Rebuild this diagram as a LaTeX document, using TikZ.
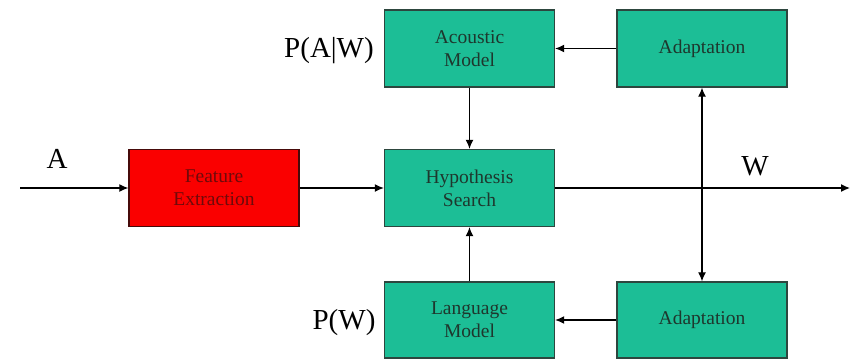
\documentclass[tikz,border=0pt]{standalone}
\usepackage{fontspec}
\setmainfont{Liberation Serif}
\usetikzlibrary{arrows.meta}
\definecolor{boxgreen}{RGB}{28,190,150}
\definecolor{boxedge}{RGB}{45,70,62}
\definecolor{boxtext}{RGB}{30,55,45}
\definecolor{redfill}{RGB}{250,0,0}
\definecolor{rededge}{RGB}{70,10,10}
\definecolor{redtext}{RGB}{110,10,10}
\tikzset{
  greenbox/.style={draw=boxedge, fill=boxgreen, line width=1.4pt, minimum width=170pt, minimum height=77pt,
    align=center, text=boxtext, inner sep=0pt, font=\fontsize{19.5}{23}\selectfont},
  redbox/.style={greenbox, draw=rededge, fill=redfill, text=redtext},
  lbl/.style={anchor=base, inner sep=0pt, font=\fontsize{29}{32}\selectfont},
  conn/.style={line width=1.1pt, -{Latex[length=9pt,width=8pt]}},
  dconn/.style={line width=1.1pt, {Latex[length=9pt,width=8pt]}-{Latex[length=9pt,width=8pt]}}
}
\begin{document}
\begin{tikzpicture}[x=1pt,y=-1pt]
\useasboundingbox (0,0) rectangle (851,359);
\node[greenbox] (am) at (469.5,48.5) {Acoustic\\Model};
\node[greenbox] (adt) at (702,48.5) {Adaptation};
\node[redbox] (fe) at (214,188) {Feature\\Extraction};
\node[greenbox] (hs) at (469.5,188) {Hypothesis\\Search};
\node[greenbox, minimum height=76pt] (lm) at (469.5,320) {Language\\Model};
\node[greenbox, minimum height=76pt] (adb) at (702,320) {Adaptation};
\coordinate (in) at (20,188);
\coordinate (out) at (850,188);
\node[lbl] (la) at (57,168) {A};
\node[lbl] (lw) at (755,175) {W};
\node[lbl] (lpaw) at (329,57) {P(A|W)};
\node[lbl] (lpw) at (344,329) {P(W)};
\draw[conn] (in) -- (fe.west);
\draw[conn] (fe.east) -- (hs.west);
\draw[conn, line width=1.3pt] (hs.east) -- (out);
\draw[conn] (am.south) -- (hs.north);
\draw[conn] (lm.north) -- (hs.south);
\draw[conn] (adt.west) -- (am.east);
\draw[conn] (adb.west) -- (lm.east);
\draw[dconn] (adt.south) -- (adb.north);
\end{tikzpicture}
\end{document}
